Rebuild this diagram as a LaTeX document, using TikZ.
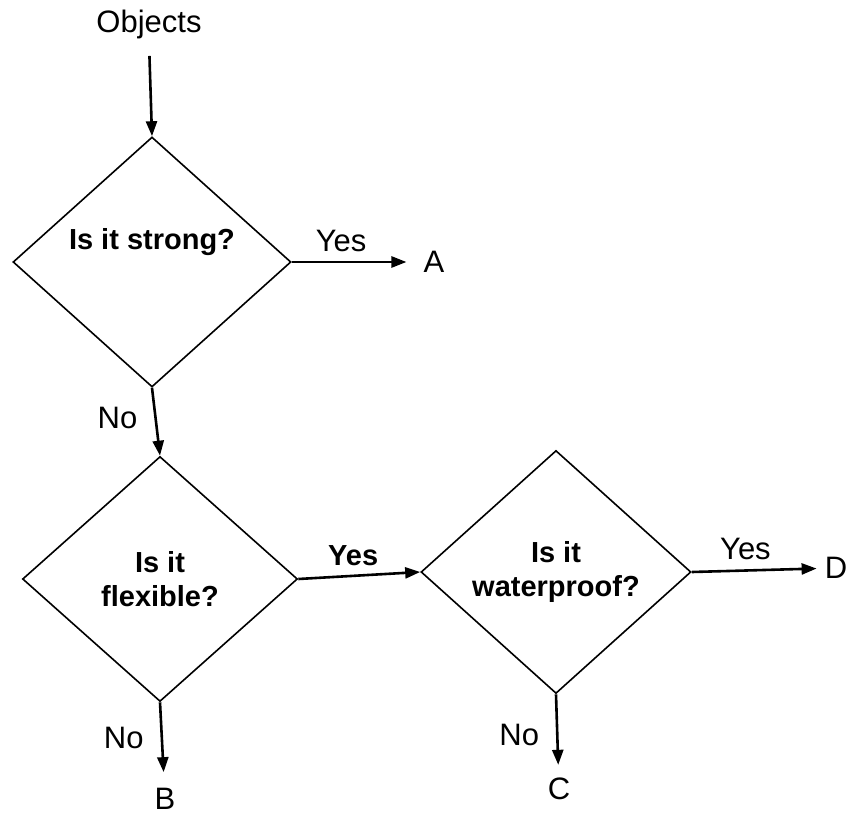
\documentclass[tikz,border=0pt]{standalone}
\usepackage{fontspec}
\setmainfont{Liberation Sans}
\usetikzlibrary{arrows.meta,shapes.geometric,positioning}

\begin{document}
\begin{tikzpicture}[x=1pt,y=-1pt,>={Triangle[length=15pt,width=11pt]},
    every node/.style={font=\fontsize{31}{35}\selectfont},
    test/.style={diamond,draw,line width=1.6pt,inner sep=0pt,align=center,
                 font=\fontsize{29}{34}\selectfont\bfseries},
    leaf/.style={inner sep=2pt},
    lab/.style={inner sep=9pt},
    flow/.style={->,line width=2.6pt}]
    \useasboundingbox (0,0) rectangle (851,816);

    \node (obj) at (149,24) {Objects};
    \node[test,minimum width=278pt,minimum height=250pt] (strong) at (152,262)
        {\raisebox{13pt}[0pt][0pt]{Is it strong?}};
    \node[test,minimum width=275pt,minimum height=245pt] (flex) at (160,579) {Is it\\flexible?};
    \node[test,minimum width=270pt,minimum height=243pt] (wet) at (556,572) {Is it\\waterproof?};

    \node[leaf] (a) at (434,262) {A};
    \node[leaf] (b) at (165,799) {B};
    \node[leaf] (c) at (559,789) {C};
    \node[leaf] (d) at (836,568) {D};

    \path [flow]
    (obj.south) edge [shorten <=14pt] (strong.north)
    (strong.east) edge [shorten >=15pt] node[lab,above,pos=0.38] {Yes} (a)
    (strong.south) edge node[lab,left=8pt,pos=0.45] {No} (flex.north)
    (flex.east) edge node[lab,above,pos=0.45,font=\fontsize{29}{34}\selectfont\bfseries] {Yes} (wet.west)
    (flex.south) edge [shorten >=14pt] node[lab,left=8pt,pos=0.42] {No} (b)
    (wet.east) edge [shorten >=6pt] node[lab,above,pos=0.41] {Yes} (d)
    (wet.south) edge [shorten >=11pt] node[lab,left=8pt,pos=0.5] {No} (c);
\end{tikzpicture}
\end{document}
